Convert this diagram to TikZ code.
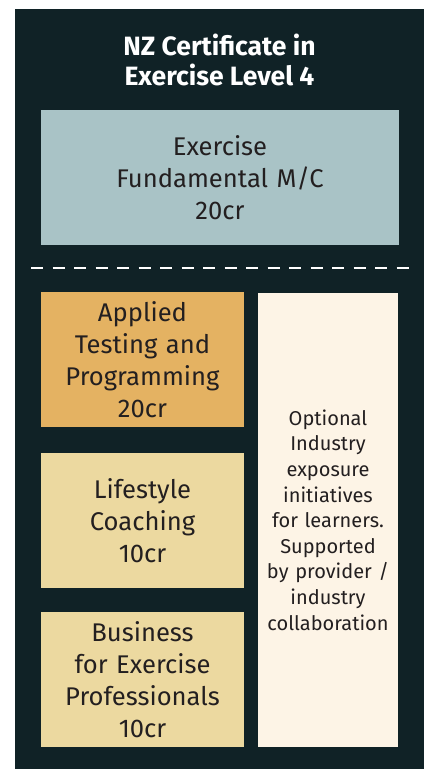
\documentclass[tikz,border=0pt]{standalone}
\usepackage{fontspec}
\setmainfont{Fira Sans}
\definecolor{bgdark}{HTML}{102226}
\definecolor{fundc}{HTML}{A9C3C6}
\definecolor{orangec}{HTML}{E4B262}
\definecolor{yellowc}{HTML}{ECD9A0}
\definecolor{creamc}{HTML}{FDF4E6}
\definecolor{textc}{HTML}{231F20}
\tikzset{
  box/.style={draw=none, inner sep=0pt, align=center, text=textc,
    font=\fontsize{25.6}{32}\selectfont},
  sidebox/.style={draw=none, inner sep=0pt, align=center, text=textc,
    font=\fontsize{20}{25.6}\selectfont},
  titletext/.style={inner sep=0pt, align=center, text=white,
    font=\fontsize{26.5}{30}\selectfont\bfseries},
  divider/.style={white, line width=2.7pt, dash pattern=on 12.3pt off 9.2pt}
}
\begin{document}
\begin{tikzpicture}[x=1pt,y=-1pt]
\useasboundingbox (0,0) rectangle (424,769);
\fill[white] (0,0) rectangle (424,769);
\fill[bgdark] (15,9) rectangle (424,769);
\node[titletext] (title) at (219.5,60) {NZ Certificate in\\Exercise Level 4};
\node[box, fill=fundc, minimum width=358pt, minimum height=135pt, text width=340pt] (fund) at (220,177.5)
  {Exercise\\Fundamental M/C\\20cr};
\coordinate (dashL) at (31,268);
\coordinate (dashR) at (410,268);
\draw[divider] (dashL) -- (dashR);
\node[box, fill=orangec, minimum width=203pt, minimum height=135pt, text width=200pt] (applied) at (142.5,359.5)
  {Applied\\Testing and\\Programming\\20cr};
\node[box, fill=yellowc, minimum width=203pt, minimum height=135pt, text width=200pt] (life) at (142.5,520.5)
  {Lifestyle\\Coaching\\10cr};
\node[box, fill=yellowc, minimum width=203pt, minimum height=135pt, text width=200pt] (business) at (142.5,679.5)
  {Business\\for Exercise\\Professionals\\10cr};
\node[sidebox, fill=creamc, minimum width=140pt, minimum height=454pt, text width=138pt] (optional) at (328,520)
  {Optional\\Industry\\exposure\\initiatives\\for learners.\\Supported\\by provider /\\industry\\collaboration};
\end{tikzpicture}
\end{document}
